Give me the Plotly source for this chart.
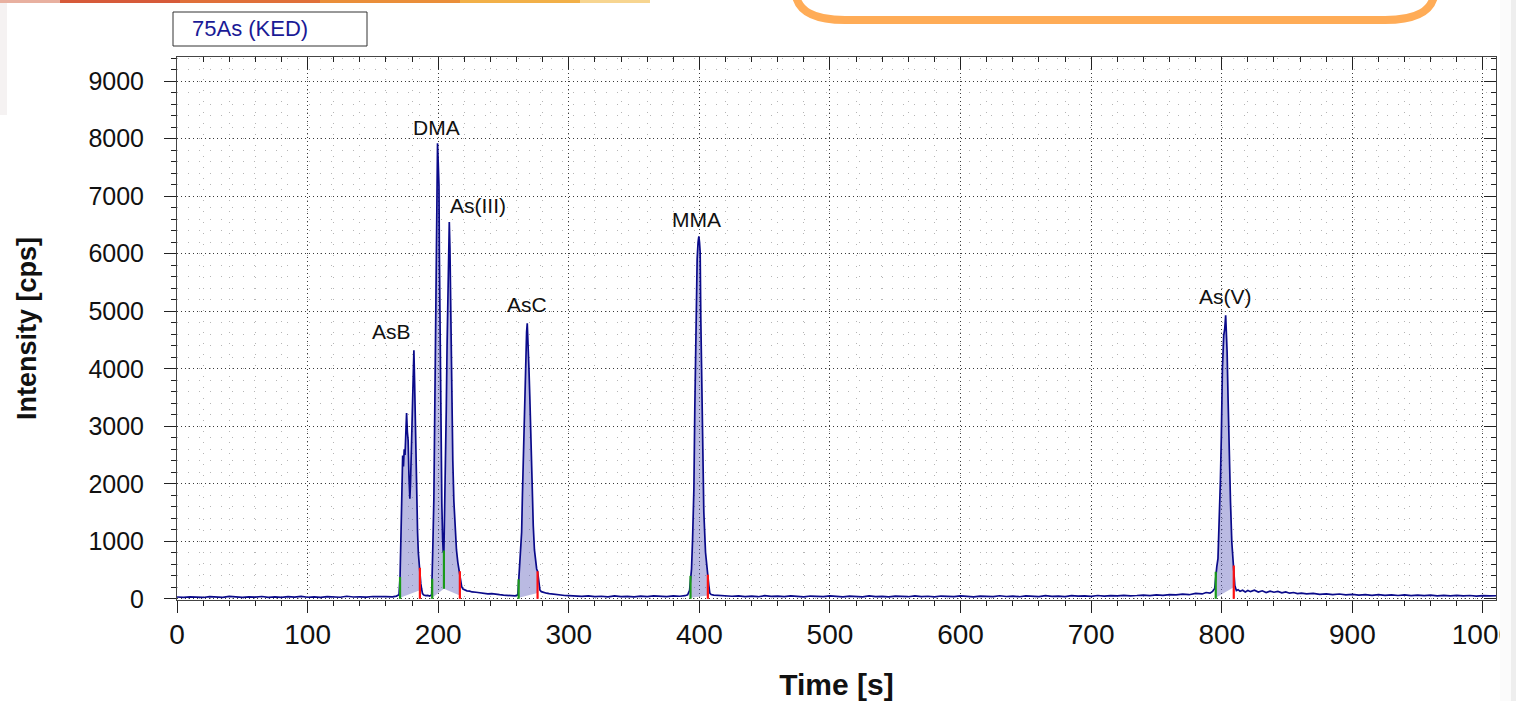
import plotly.graph_objects as go

# ---------------- data ----------------
time_s = [
    0, 5, 10, 15, 20, 25, 30, 35, 40, 45, 50, 55, 60, 65, 70, 75, 80, 85, 90, 95,
    100, 105, 110, 115, 120, 125, 130, 135, 140, 145, 150, 155, 160, 165, 168, 170,
    # AsB
    170.8, 171.5, 172.2, 172.8, 173.4, 174.0, 174.6, 175.2, 175.8, 176.4, 177.0, 177.6,
    178.3, 178.8, 179.3, 180.0, 180.5, 180.9, 181.4, 182.0, 182.6, 183.1, 183.6, 184.2,
    184.8, 185.4, 186.0, 186.7, 187.3, 188.0, 189.0, 190.5, 192.0, 193.5, 195.0,
    # DMA + As(III)
    195.4, 196.0, 196.7, 197.2, 197.6, 198.0, 198.5, 199.0, 199.5, 200.0, 200.6, 200.9,
    201.3, 201.8, 202.3, 202.8, 203.4, 203.9, 204.4, 205.0, 205.6, 206.2, 206.8, 207.3,
    207.8, 208.5, 209.0, 209.5, 210.0, 210.5, 211.2, 212.0, 213.0, 214.0, 215.0, 215.8,
    216.6, 217.2, 218.0, 219.0, 220, 222, 224, 226, 229, 232, 235, 238, 241, 244, 247,
    250, 253, 256, 259, 261.0,
    # AsC
    261.6, 262.3, 263.0, 263.9, 264.5, 265.1, 265.8, 266.4, 267.1, 267.7, 268.2, 268.9,
    269.5, 270.2, 270.8, 271.5, 272.2, 272.8, 273.7, 274.6, 275.4, 276.1, 277.0, 277.9,
    279, 281, 283, 285, 288, 291, 294, 297, 300,
    305, 310, 315, 320, 325, 330, 335, 340, 345, 350, 355, 360, 365, 370, 375, 380, 385,
    389, 391, 392.5,
    # MMA
    393.2, 394.0, 394.8, 395.8, 396.5, 397.3, 398.3, 399.0, 399.6, 400.1, 400.6, 401.1,
    401.7, 402.4, 403.4, 404.7, 405.6, 406.5, 407.2, 408.0, 409, 411, 414, 417, 420,
    425, 430, 435, 440, 445, 450, 455, 460, 465, 470, 475, 480, 485, 490, 495, 500,
    505, 510, 515, 520, 525, 530, 535, 540, 545, 550, 555, 560, 565, 570, 575, 580,
    585, 590, 595, 600, 605, 610, 615, 620, 625, 630, 635, 640, 645, 650, 655, 660,
    665, 670, 675, 680, 685, 690, 695, 700, 705, 710, 715, 720, 725, 730, 735, 740,
    745, 750, 755, 760, 765, 770, 775, 780, 785, 788, 791, 793, 794.6,
    # As(V)
    795.4, 796.2, 797.1, 797.9, 799.0, 799.7, 800.5, 801.5, 802.3, 803.0, 803.5, 804.1,
    804.9, 805.6, 806.7, 807.7, 808.5, 809.2, 810.0, 811.2, 812.5, 814, 816, 818, 820,
    822, 825, 828, 831, 834, 837, 840, 843, 846, 849, 852, 855, 858, 861, 865, 870,
    875, 880, 885, 890, 895, 900, 905, 910, 915, 920, 925, 930, 935, 940, 945, 950,
    955, 960, 965, 970, 975, 980, 985, 990, 995, 1000, 1005, 1010,
]
intensity_cps = [
    32, 26, 35, 28, 24, 38, 30, 27, 44, 31, 25, 34, 29, 41, 27, 33, 26, 37, 30, 43,
    28, 35, 27, 39, 31, 28, 45, 32, 36, 29, 41, 34, 39, 36, 48, 70,
    # AsB
    380, 1100, 1900, 2490, 2300, 2600, 2500, 3050, 3230, 2900, 2750, 2150,
    1740, 2000, 2450, 3400, 3750, 4120, 4320, 3700, 2900, 2100, 1700, 1160,
    800, 600, 540, 260, 175, 90, 65, 55, 60, 48, 70,
    # DMA + As(III)
    350, 1000, 1750, 2800, 3600, 5000, 6500, 7400, 7920, 7600, 7180, 6000,
    4850, 3450, 2400, 1650, 1040, 800, 840, 1500, 2400, 3300, 4400, 5200,
    6150, 6550, 6100, 5100, 4100, 3300, 2400, 1700, 1200, 850, 640, 520,
    480, 320, 210, 170, 155, 140, 135, 120, 115, 105, 95, 88, 90, 75, 72,
    65, 60, 55, 52, 70,
    # AsC
    340, 480, 800, 1160, 1800, 2430, 3100, 3770, 4300, 4640, 4790, 4460,
    4000, 3480, 2900, 2320, 1750, 1270, 850, 600, 520, 480, 250, 150,
    125, 105, 98, 90, 80, 72, 65, 58, 55,
    48, 42, 50, 38, 45, 36, 52, 40, 44, 35, 47, 39, 50, 42, 38, 53, 45,
    55, 70, 150,
    # MMA
    400, 520, 1040, 1910, 3300, 4920, 5910, 6200, 6300, 6200, 6030, 4870,
    3700, 2550, 1510, 810, 560, 420, 240, 100, 75, 65, 58, 62, 50,
    45, 52, 40, 48, 37, 55, 42, 46, 38, 50, 41, 36, 49, 43, 38, 52,
    40, 35, 47, 42, 36, 50, 39, 44, 34, 48, 41, 37, 53, 40, 45, 35,
    49, 42, 38, 51, 40, 36, 47, 43, 38, 54, 41, 46, 37, 50, 42, 39,
    55, 44, 48, 40, 57, 46, 52, 44, 58, 48, 55, 50, 62, 53, 58, 66,
    55, 70, 62, 75, 68, 82, 72, 95, 85, 110, 100, 130, 180,
    # As(V)
    470, 560, 700, 1215, 2085, 2840, 4000, 4575, 4700, 4930, 4700, 4290,
    3420, 2550, 1680, 985, 700, 580, 230, 145, 160, 130, 150, 120, 145,
    125, 150, 118, 140, 110, 135, 115, 128, 105, 120, 98, 110, 92, 100, 85, 95,
    78, 88, 72, 84, 70, 78, 65, 75, 62, 72, 60, 70, 58, 68, 56, 66,
    55, 64, 52, 62, 50, 60, 52, 58, 48, 56, 50, 54,
]

# peak labels
peak_names = ["AsB", "DMA", "As(III)", "AsC", "MMA", "As(V)"]
label_time = [164.6, 199.0, 230.4, 268.0, 398.0, 803.0]
label_cps = [4640, 8200, 6846, 5126, 6603, 5265]

# integration windows (start/end time and baseline level of the shaded area)
int_start_t = [170.8, 195.4, 204.4, 261.6, 393.2, 795.4]
int_end_t = [186.0, 204.4, 216.6, 276.1, 406.5, 809.2]
int_start_base = [20, 20, 175, 20, 20, 20]
int_end_base = [150, 175, 60, 100, 60, 200]

# peak start (green) and end (red) markers
green_t = [170.8, 195.4, 204.4, 261.6, 393.2, 795.4]
green_lo = [0, 0, 175, 0, 0, 0]
green_hi = [380, 350, 840, 340, 400, 470]
red_t = [186.0, 216.6, 276.1, 406.5, 809.2]
red_lo = [0, 0, 0, 0, 0]
red_hi = [540, 480, 480, 420, 580]

x_ticks = [0, 100, 200, 300, 400, 500, 600, 700, 800, 900, 1000]
y_ticks = [0, 1000, 2000, 3000, 4000, 5000, 6000, 7000, 8000, 9000]

# ---------------- figure ----------------
W, H = 1516, 701
ML, MR, MT, MB = 177, 20, 57, 101
PW, PH = W - ML - MR, H - MT - MB


def pxx(x):
    return (x - ML) / PW


def pxy(y):
    return (H - MB - y) / PH


FONT = "Liberation Sans, Arial, sans-serif"
LINE_COLOR = "#0a0a8a"

fig = go.Figure()

# shaded integration areas
for s, e, b0, b1 in zip(int_start_t, int_end_t, int_start_base, int_end_base):
    seg = [(t, v) for t, v in zip(time_s, intensity_cps) if s <= t <= e]
    xs = [s] + [p[0] for p in seg] + [e, s]
    ys = [b0] + [p[1] for p in seg] + [b1, b0]
    fig.add_trace(go.Scatter(x=xs, y=ys, fill="toself", mode="lines",
                             line=dict(width=0), fillcolor="rgba(90,90,185,0.42)",
                             hoverinfo="skip", showlegend=False))

# chromatogram
fig.add_trace(go.Scatter(x=time_s, y=intensity_cps, mode="lines",
                         line=dict(color=LINE_COLOR, width=1.7),
                         name="75As (KED)", showlegend=False))


def seg_trace(ts, lo, hi, color):
    xs, ys = [], []
    for t, a, b in zip(ts, lo, hi):
        xs += [t, t, None]
        ys += [a, b, None]
    return go.Scatter(x=xs, y=ys, mode="lines", line=dict(color=color, width=2.2),
                      hoverinfo="skip", showlegend=False)


fig.add_trace(seg_trace(green_t, green_lo, green_hi, "#1a9a1a"))
fig.add_trace(seg_trace(red_t, red_lo, red_hi, "#ff1010"))

# helper trace for mirrored tick axes
fig.add_trace(go.Scatter(x=[time_s[0]], y=[intensity_cps[0]], xaxis="x2", yaxis="y2",
                         mode="markers", marker=dict(opacity=0), hoverinfo="skip",
                         showlegend=False))

# peak labels
for name, t, v in zip(peak_names, label_time, label_cps):
    fig.add_annotation(x=t, y=v, text=name, showarrow=False,
                       font=dict(family=FONT, size=21, color="#111"),
                       xanchor="center", yanchor="middle")

XR = [0, 1010]
YR = [-20, 9420]
grid_major = dict(showgrid=True, gridcolor="#3a3a3a", griddash="1px,3px", gridwidth=1)

fig.update_layout(
    width=W, height=H,
    margin=dict(l=ML, r=MR, t=MT, b=MB, autoexpand=False),
    paper_bgcolor="white", plot_bgcolor="white",
    font=dict(family=FONT, color="#111"),
    xaxis=dict(
        range=XR, tickmode="array", tickvals=x_ticks, ticktext=[str(v) for v in x_ticks],
        ticks="outside", ticklen=12, tickwidth=1, tickcolor="#222", automargin=False,
        showline=True, linecolor="#444", linewidth=1, mirror=True, zeroline=False,
        minor=dict(dtick=20, tick0=0, ticks="outside", ticklen=5, tickcolor="#222",
                   showgrid=True, gridcolor="#b5b5b5", griddash="1px,10px"),
        tickfont=dict(family=FONT, size=28, color="#111"), ticklabelstandoff=-3,
        title=dict(text="<b>Time [s]</b>", font=dict(family=FONT, size=30, color="#111"),
                   standoff=26),
        **grid_major,
    ),
    yaxis=dict(
        range=YR, tickmode="array", tickvals=y_ticks, ticktext=[str(v) for v in y_ticks],
        ticks="outside", ticklen=12, tickwidth=1, tickcolor="#222", automargin=False,
        showline=True, linecolor="#444", linewidth=1, mirror=True, zeroline=False,
        minor=dict(dtick=200, tick0=0, ticks="outside", ticklen=5, tickcolor="#222",
                   showgrid=True, gridcolor="#b5b5b5", griddash="1px,10px"),
        tickfont=dict(family=FONT, size=25, color="#111"), ticklabelstandoff=15,
        title=dict(text="<b>Intensity [cps]</b>", font=dict(family=FONT, size=27, color="#111"),
                   standoff=43),
        **grid_major,
    ),
    xaxis2=dict(range=XR, overlaying="x", side="top", tickmode="linear", tick0=0, dtick=100,
                ticks="inside", ticklen=12, tickcolor="#222", showticklabels=False,
                showgrid=False, zeroline=False, showline=False, automargin=False,
                minor=dict(dtick=20, tick0=0, ticks="inside", ticklen=5, tickcolor="#222")),
    yaxis2=dict(range=YR, overlaying="y", side="right", tickmode="linear", tick0=0, dtick=1000,
                ticks="inside", ticklen=12, tickcolor="#222", showticklabels=False,
                showgrid=False, zeroline=False, showline=False, automargin=False,
                minor=dict(dtick=200, tick0=0, ticks="inside", ticklen=5, tickcolor="#222")),
    showlegend=False,
)

# legend-like box "75As (KED)"
fig.add_shape(type="rect", xref="paper", yref="paper",
              x0=pxx(173), x1=pxx(367), y0=pxy(46), y1=pxy(12),
              line=dict(color="#333", width=1), fillcolor="white", layer="above")
fig.add_annotation(xref="paper", yref="paper", x=pxx(190), y=pxy(29), text="75As (KED)",
                   showarrow=False, xanchor="left", yanchor="middle",
                   font=dict(family=FONT, size=22, color="#1a1a96"))

# slide decorations: orange rounded frame (top right) and gradient bar (top left)
pts = [(795, -12), (795, 12), (815, 20), (845, 20), (1385, 20), (1415, 20), (1435, 12), (1435, -12)]
p = [(pxx(a), pxy(b)) for a, b in pts]
path = (f"M {p[0][0]},{p[0][1]} C {p[1][0]},{p[1][1]} {p[2][0]},{p[2][1]} {p[3][0]},{p[3][1]} "
        f"L {p[4][0]},{p[4][1]} C {p[5][0]},{p[5][1]} {p[6][0]},{p[6][1]} {p[7][0]},{p[7][1]}")
fig.add_shape(type="path", xref="paper", yref="paper", path=path,
              line=dict(color="#FFAC57", width=8))

bar_cols = ["#e8b0a0", "#d65a3a", "#e0703a", "#ea8e3a", "#f2b048", "#f7d590"]
bar_x = [0, 60, 180, 320, 460, 580, 650]
for i, c in enumerate(bar_cols):
    fig.add_shape(type="rect", xref="paper", yref="paper",
                  x0=pxx(bar_x[i]), x1=pxx(bar_x[i + 1]), y0=pxy(3), y1=pxy(0),
                  line=dict(width=0), fillcolor=c)
fig.add_shape(type="rect", xref="paper", yref="paper",
              x0=pxx(0), x1=pxx(7), y0=pxy(115), y1=pxy(3),
              line=dict(width=0), fillcolor="#f5f2f2")
# slide edge at the right that clips the last tick label
fig.add_shape(type="rect", xref="paper", yref="paper",
              x0=pxx(1500), x1=pxx(1516), y0=pxy(701), y1=pxy(0),
              line=dict(width=0), fillcolor="#fbfbfb", layer="above")
fig.add_shape(type="rect", xref="paper", yref="paper",
              x0=pxx(1511), x1=pxx(1516), y0=pxy(701), y1=pxy(0),
              line=dict(width=0), fillcolor="#eeeeee", layer="above")

# remove the page's default body margin so the figure sits at the window origin
fig.write_html("out.html", config={"responsive": False, "displayModeBar": False},
               post_script="document.body.style.margin='0';document.body.style.overflow='hidden';")
